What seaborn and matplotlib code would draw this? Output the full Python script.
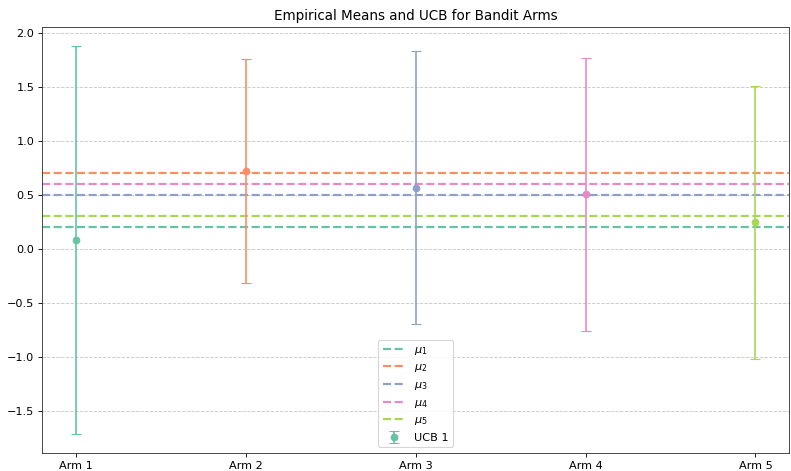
import numpy as np
import seaborn as sns
import matplotlib
matplotlib.use('Agg')
import matplotlib.pyplot as plt

# data
arms = ['Arm 1', 'Arm 2', 'Arm 3', 'Arm 4', 'Arm 5']
true_means = [0.2, 0.7, 0.5, 0.6, 0.3]
emp_means = [0.08, 0.72, 0.565, 0.505, 0.245]
ucb_width = [1.795, 1.035, 1.265, 1.265, 1.265]

colors = sns.color_palette('Set2', len(arms))

plt.rcParams['font.size'] = 10.3
plt.rcParams['axes.edgecolor'] = '#333333'

fig, ax = plt.subplots(figsize=(10, 5.955), dpi=79.1)
fig.subplots_adjust(left=0.053, right=0.998, top=0.943, bottom=0.038)

x = np.arange(len(arms))

for i, mu in enumerate(true_means):
    ax.axhline(mu, color=colors[i], linestyle='--', linewidth=2,
               label=r'$\mu_{%d}$' % (i + 1))

for i in range(len(arms)):
    ax.errorbar(x[i], emp_means[i], yerr=ucb_width[i], fmt='o',
                color=colors[i], capsize=5,
                label='UCB 1' if i == 0 else None)

ax.set_xticks(x)
ax.set_xticklabels(arms)
ax.set_title('Empirical Means and UCB for Bandit Arms', fontsize=12.3)
ax.grid(axis='y', linestyle='--', alpha=0.7)
ax.legend(loc='lower center')

plt.savefig('out.png')
